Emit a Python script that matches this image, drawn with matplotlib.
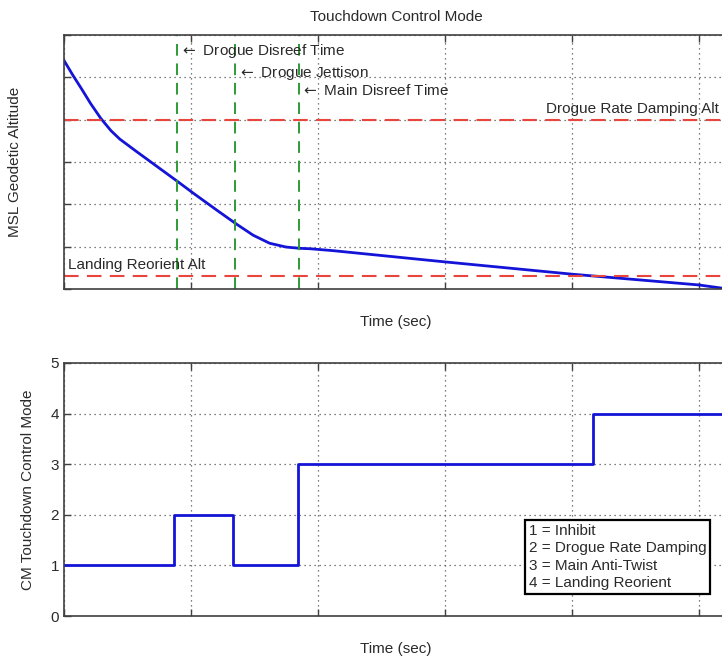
import numpy as np
import matplotlib
matplotlib.use('Agg')
import matplotlib.pyplot as plt

plt.rcParams['font.family'] = ['Liberation Sans', 'DejaVu Sans']

# altitude trace (arbitrary units)
t_alt = [0.0, 0.07, 0.14, 0.21, 0.29, 0.37, 0.44, 0.57, 0.73, 0.89, 1.02, 1.20, 1.36,
         1.49, 1.62, 1.75, 1.86, 1.94, 2.12, 3.0, 4.0, 5.0, 5.23]
alt = [5.40, 5.05, 4.72, 4.38, 4.03, 3.74, 3.54, 3.25, 2.90, 2.55, 2.26, 1.87, 1.53,
       1.27, 1.08, 0.99, 0.96, 0.95, 0.905, 0.64, 0.35, 0.095, 0.0]

# event times and altitude thresholds
event_t = [0.89, 1.35, 1.85]
event_lab = ['Drogue Disreef Time', 'Drogue Jettison', 'Main Disreef Time']
event_lab_y = [5.63, 5.1, 4.7]
damp_alt = 4.0
reorient_alt = 0.31

# control mode steps
t_mode = [0.0, 0.866, 1.33, 1.84, 4.17, 5.23]
mode = [1, 2, 1, 3, 4, 4]
mode_names = ['1 = Inhibit', '2 = Drogue Rate Damping', '3 = Main Anti-Twist', '4 = Landing Reorient']

txt_col = '#2a2a2a'
spine_col = '#404040'
fs = 11

fig = plt.figure(figsize=(7.22, 6.59), dpi=100)
ax1 = fig.add_axes([0.0886, 0.5615, 0.9197, 0.3854])
ax2 = fig.add_axes([0.0886, 0.0652, 0.9197, 0.384])

for ax in (ax1, ax2):
    ax.set_xlim(0, 5.23)
    ax.set_xticks(range(0, 6))
    ax.tick_params(direction='in', top=True, length=5, width=1, colors=spine_col,
                   labelcolor=txt_col, labelsize=fs)
    ax.set_xticklabels([])
    ax.grid(True, linestyle=(0, (1, 3)), color='#555555', linewidth=0.9)
    for s in ax.spines.values():
        s.set_color(spine_col)
        s.set_linewidth(1.2)

# top panel
ax1.set_ylim(0, 6)
ax1.set_yticks(range(0, 7))
ax1.set_yticklabels([])
ax1.plot(t_alt, alt, color='#1414d8', linewidth=2)
ax1.axhline(damp_alt, color='#e8453c', linestyle=(0, (7, 4)), linewidth=1.5)
ax1.axhline(reorient_alt, color='#e8453c', linestyle=(0, (7, 4)), linewidth=1.5)
for t, lab, ly in zip(event_t, event_lab, event_lab_y):
    ax1.axvline(t, color='#2e9a36', linestyle=(0, (6, 4)), linewidth=1.4)
    ax1.text(t + 0.02, ly, '$\\leftarrow$' + ' ' + lab, va='center', ha='left', fontsize=fs, color=txt_col)
ax1.text(5.16, 4.26, 'Drogue Rate Damping Alt', va='center', ha='right', fontsize=fs, color=txt_col)
ax1.text(0.03, 0.57, 'Landing Reorient Alt', va='center', ha='left', fontsize=fs, color=txt_col)
ax1.set_ylabel('MSL Geodetic Altitude', fontsize=fs, color=txt_col)
ax1.yaxis.set_label_coords(-0.063, 0.5)
ax1.set_xlabel('Time (sec)', fontsize=fs, color=txt_col)
ax1.xaxis.set_label_coords(0.5, -0.102)
ax1.text(0.5, 1.07, 'Touchdown Control Mode', transform=ax1.transAxes, ha='center', va='center',
         fontsize=fs, color=txt_col)

# bottom panel
ax2.set_ylim(0, 5)
ax2.set_yticks(range(0, 6))
ax2.step(t_mode, mode, where='post', color='#1414d8', linewidth=2)
ax2.set_ylabel('CM Touchdown Control Mode', fontsize=fs, color=txt_col)
ax2.yaxis.set_label_coords(-0.044, 0.5)
ax2.set_xlabel('Time (sec)', fontsize=fs, color=txt_col)
ax2.xaxis.set_label_coords(0.5, -0.103)
ax2.text(3.66, 1.82, '\n'.join(mode_names), va='top', ha='left', fontsize=fs, color=txt_col,
         linespacing=1.3,
         bbox=dict(boxstyle='square,pad=0.25', facecolor='white', edgecolor='black', linewidth=1.6))

fig.savefig('out.png', dpi=100)
